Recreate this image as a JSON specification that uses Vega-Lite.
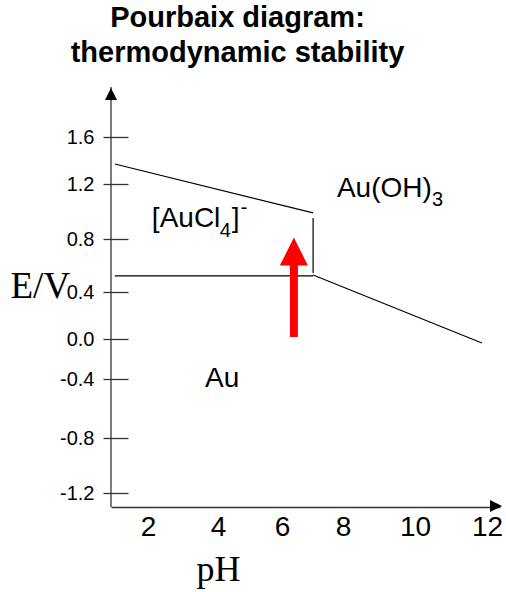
{
  "$schema": "https://vega.github.io/schema/vega-lite/v6.json",
  "width": 389,
  "height": 420,
  "autosize": {"type": "none"},
  "padding": {"left": 111, "top": 87, "right": 6, "bottom": 85},
  "background": "white",
  "config": {"view": {"stroke": null}, "font": "Liberation Sans"},
  "title": {
    "text": ["Pourbaix diagram:", "thermodynamic stability"],
    "font": "Liberation Sans",
    "fontSize": 29,
    "fontWeight": "bold",
    "color": "black",
    "lineHeight": 35,
    "anchor": "middle",
    "frame": "group",
    "dx": -68,
    "offset": 18
  },
  "layer": [
    {
      "data": {"values": [
        {"x": 1.05, "y": 1.37, "x2": 7.02, "y2": 0.99},
        {"x": 7.02, "y": 0.953, "x2": 7.02, "y2": 0.543},
        {"x": 1.05, "y": 0.521, "x2": 7.02, "y2": 0.521},
        {"x": 7.02, "y": 0.528, "x2": 11.86, "y2": -0.04}
      ]},
      "mark": {"type": "rule", "color": "black", "strokeWidth": 1.2},
      "encoding": {
        "x": {
          "field": "x", "type": "quantitative",
          "scale": {"domain": [0.94, 2, 4, 6, 8, 10, 12, 12.36], "range": [0, 37, 107, 171, 232, 304, 376, 389], "nice": false, "zero": false},
          "axis": {
            "title": "pH", "values": [2, 4, 6, 8, 10, 12], "ticks": false, "grid": false,
            "domainColor": "#333", "domainWidth": 1.3,
            "labelFontSize": 28, "labelColor": "black", "labelPadding": 6, "labelFont": "Liberation Sans",
            "labelFlush": false, "labelOverlap": false,
            "titleFont": "Liberation Serif", "titleFontSize": 36, "titleFontWeight": "normal", "titleColor": "black",
            "titleX": 107, "titleY": 73, "titleAlign": "center", "titleBaseline": "alphabetic"
          }
        },
        "y": {
          "field": "y", "type": "quantitative",
          "scale": {"domain": [-1.3, -1.2, -0.8, -0.4, 0, 0.4, 0.8, 1.2, 1.6, 2.02], "range": [420, 406, 351, 292, 252, 205, 152, 97, 50, 0], "nice": false, "zero": false},
          "axis": {
            "title": "E/V", "values": [-1.2, -0.8, -0.4, 0, 0.4, 0.8, 1.2, 1.6],
            "labelExpr": "replace(format(datum.value, '.1f'), '\u2212', '-')",
            "offset": -17, "domain": false, "grid": false,
            "tickSize": 25, "tickColor": "#333", "tickWidth": 1.3,
            "labelFontSize": 20, "labelColor": "black", "labelPadding": 9, "labelFont": "Liberation Sans",
            "labelOverlap": false, "labelFlush": false,
            "titleFont": "Liberation Serif", "titleFontSize": 37, "titleFontWeight": "normal", "titleColor": "black",
            "titleAngle": 0, "titleAlign": "left", "titleBaseline": "alphabetic", "titleX": -118, "titleY": 210
          }
        },
        "x2": {"field": "x2"},
        "y2": {"field": "y2"}
      }
    },
    {
      "data": {"values": [{"x": 0.94}]},
      "mark": {"type": "rule", "color": "#333", "strokeWidth": 1.3},
      "encoding": {"x": {"field": "x", "type": "quantitative"}}
    },
    {
      "data": {"values": [{"x": 0.94, "y": 1.961}]},
      "mark": {"type": "point", "shape": "M0,-1L1,1L-1,1Z", "size": 144, "filled": true, "color": "black", "opacity": 1},
      "encoding": {"x": {"field": "x", "type": "quantitative"}, "y": {"field": "y", "type": "quantitative"}}
    },
    {
      "data": {"values": [{"x": 12.25, "y": -1.293}]},
      "mark": {"type": "point", "shape": "M1,0L-1,-1L-1,1Z", "size": 144, "filled": true, "color": "black", "opacity": 1},
      "encoding": {"x": {"field": "x", "type": "quantitative"}, "y": {"field": "y", "type": "quantitative"}}
    },
    {
      "data": {"values": [{"x": 6.39, "y": 0.017, "y2": 0.61}]},
      "mark": {"type": "rule", "color": "#ff0000", "strokeWidth": 8, "strokeCap": "butt"},
      "encoding": {"x": {"field": "x", "type": "quantitative"}, "y": {"field": "y", "type": "quantitative"}, "y2": {"field": "y2"}}
    },
    {
      "data": {"values": [{"x": 6.39, "y": 0.706}]},
      "mark": {"type": "point", "shape": "M0,-1L1,1L-1,1Z", "size": 784, "filled": true, "color": "#ff0000", "opacity": 1},
      "encoding": {"x": {"field": "x", "type": "quantitative"}, "y": {"field": "y", "type": "quantitative"}}
    },
    {
      "data": {"values": [
        {"x": 2.11, "y": 0.887, "label": "[AuCl"},
        {"x": 7.80, "y": 1.105, "label": "Au(OH)"},
        {"x": 3.63, "y": -0.454, "label": "Au"}
      ]},
      "mark": {"type": "text", "font": "Liberation Sans", "fontSize": 28, "align": "left", "baseline": "alphabetic", "color": "black"},
      "encoding": {"x": {"field": "x", "type": "quantitative"}, "y": {"field": "y", "type": "quantitative"}, "text": {"field": "label"}}
    },
    {
      "data": {"values": [{"x": 2.11, "y": 0.887, "label": "4"}]},
      "mark": {"type": "text", "font": "Liberation Sans", "fontSize": 20, "align": "left", "baseline": "alphabetic", "color": "black", "dx": 68, "dy": 10},
      "encoding": {"x": {"field": "x", "type": "quantitative"}, "y": {"field": "y", "type": "quantitative"}, "text": {"field": "label"}}
    },
    {
      "data": {"values": [{"x": 2.11, "y": 0.887, "label": "]"}]},
      "mark": {"type": "text", "font": "Liberation Sans", "fontSize": 28, "align": "left", "baseline": "alphabetic", "color": "black", "dx": 80},
      "encoding": {"x": {"field": "x", "type": "quantitative"}, "y": {"field": "y", "type": "quantitative"}, "text": {"field": "label"}}
    },
    {
      "data": {"values": [{"x": 2.11, "y": 0.887, "label": "-"}]},
      "mark": {"type": "text", "font": "Liberation Sans", "fontSize": 20, "align": "left", "baseline": "alphabetic", "color": "black", "dx": 89, "dy": -13},
      "encoding": {"x": {"field": "x", "type": "quantitative"}, "y": {"field": "y", "type": "quantitative"}, "text": {"field": "label"}}
    },
    {
      "data": {"values": [{"x": 7.80, "y": 1.105, "label": "3"}]},
      "mark": {"type": "text", "font": "Liberation Sans", "fontSize": 20, "align": "left", "baseline": "alphabetic", "color": "black", "dx": 95, "dy": 9},
      "encoding": {"x": {"field": "x", "type": "quantitative"}, "y": {"field": "y", "type": "quantitative"}, "text": {"field": "label"}}
    }
  ]
}
